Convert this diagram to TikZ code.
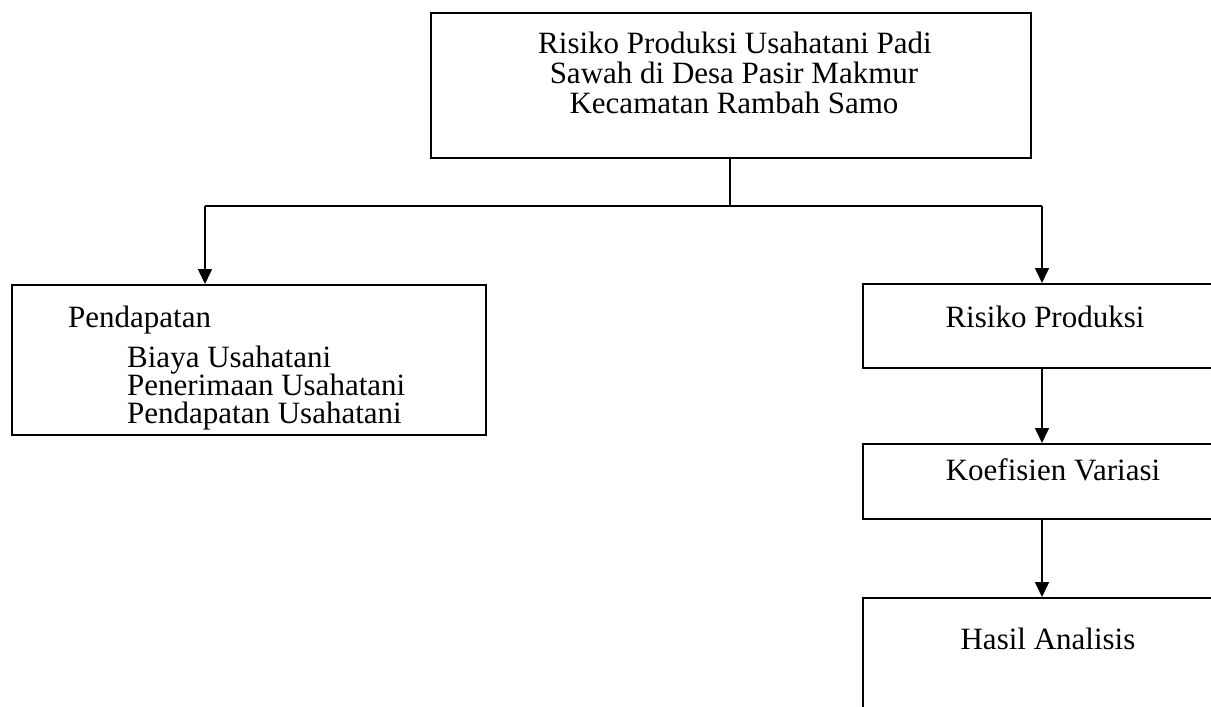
\documentclass[tikz,border=0pt]{standalone}
\usepackage{fontspec}
\setmainfont{Liberation Serif}
\usetikzlibrary{arrows.meta}
\begin{document}
\begin{tikzpicture}[x=1pt,y=-1pt,
  box/.style={draw,line width=1.6pt,inner sep=0pt,anchor=north west},
  link/.style={line width=1.6pt},
  arr/.style={line width=1.6pt,-{Triangle[length=15pt,width=14pt]}},
  txt/.style={inner sep=0pt,font=\fontsize{31}{35}\selectfont}]
\clip (0,0) rectangle (1211,707);
\useasboundingbox (0,0) rectangle (1211,707);
\fill[white] (0,0) rectangle (1211,707);
% boxes
\node[box,minimum width=600pt,minimum height=145pt] (top) at (430,12) {};
\node[box,minimum width=474pt,minimum height=150pt] (left) at (11,284) {};
\node[box,minimum width=362pt,minimum height=84pt] (rp) at (862,283) {};
\node[box,minimum width=362pt,minimum height=75pt] (kv) at (862,443) {};
\node[box,minimum width=362pt,minimum height=190pt] (ha) at (862,597) {};
% texts
\node[txt,anchor=base] (t1) at (735,53) {Risiko Produksi Usahatani Padi};
\node[txt,anchor=base] (t2) at (734,83) {Sawah di Desa Pasir Makmur};
\node[txt,anchor=base] (t3) at (734,113) {Kecamatan Rambah Samo};
\node[txt,anchor=base west] (l1) at (68,327) {Pendapatan};
\node[txt,anchor=base west] (l2) at (127,367) {Biaya Usahatani};
\node[txt,anchor=base west] (l3) at (127,395) {Penerimaan Usahatani};
\node[txt,anchor=base west] (l4) at (127,423) {Pendapatan Usahatani};
\node[txt,anchor=base] (r1) at (1045,327) {Risiko Produksi};
\node[txt,anchor=base] (r2) at (1053,480) {Koefisien Variasi};
\node[txt,anchor=base] (r3) at (1048,649) {Hasil Analisis};
% connectors
\coordinate (split) at (730,206);
\coordinate (lh) at (205,206);
\coordinate (rh) at (1042,206);
\draw[link] (top.south -| split) -- (split);
\draw[link] (lh) -- (rh);
\draw[arr] (lh) -- (lh |- left.north);
\draw[arr] (rh) -- (rh |- rp.north);
\draw[arr] (rh |- rp.south) -- (rh |- kv.north);
\draw[arr] (rh |- kv.south) -- (rh |- ha.north);
\end{tikzpicture}
\end{document}
